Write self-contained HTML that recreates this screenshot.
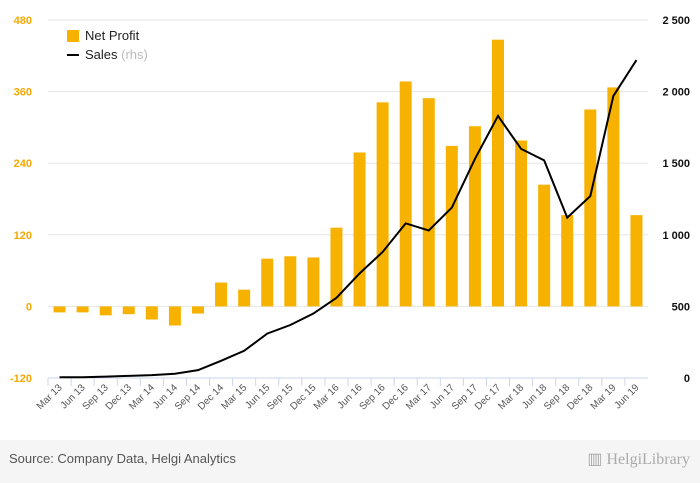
<!DOCTYPE html>
<html><head><meta charset="utf-8"><style>
body{margin:0;background:#fff;font-family:"Liberation Sans",sans-serif}
#wrap{position:relative;width:700px;height:483px;overflow:hidden}
#foot{position:absolute;left:0;top:440px;width:700px;height:43px;background:#f5f5f5}
</style></head><body>
<div id="wrap">
<svg id="svg" width="700" height="440"></svg>
<div id="foot">
<div style="position:absolute;left:9px;top:11px;font-size:13px;color:#555">Source: Company Data, Helgi Analytics</div>
<div style="position:absolute;right:10px;top:9px;font-size:16px;color:#aaa;font-family:'Liberation Serif',serif">▥ HelgiLibrary</div>
</div>
</div>
<script>
const categories=["Mar 13","Jun 13","Sep 13","Dec 13","Mar 14","Jun 14","Sep 14","Dec 14","Mar 15","Jun 15","Sep 15","Dec 15","Mar 16","Jun 16","Sep 16","Dec 16","Mar 17","Jun 17","Sep 17","Dec 17","Mar 18","Jun 18","Sep 18","Dec 18","Mar 19","Jun 19"];
const netProfit=[-10,-10,-15,-13,-22,-32,-12,40,28,80,84,82,132,258,342,377,349,269,302,447,278,204,153,330,367,153];
const sales=[5,5,10,15,20,30,55,120,190,310,370,450,560,730,880,1080,1030,1190,1530,1830,1600,1520,1120,1270,1970,2220];
const leftTicks=[-120,0,120,240,360,480];
const rightTicks=[0,500,1000,1500,2000,2500];
const NS="http://www.w3.org/2000/svg";
const svg=document.getElementById('svg');
const x0=48,x1=648,yTop=20,yBot=378;
const yL=v=>yBot-(v+120)/600*(yBot-yTop);
const yR=v=>yBot-v/2500*(yBot-yTop);
const step=(x1-x0)/categories.length;
const xc=i=>x0+step*(i+0.5);
function mk(t,a,txt){const e=document.createElementNS(NS,t);for(const k in a)e.setAttribute(k,a[k]);if(txt!==undefined)e.textContent=txt;svg.appendChild(e);return e;}
leftTicks.forEach(v=>{
 const g=mk('line',{x1:x0,x2:x1,y1:yL(v),y2:yL(v),stroke:'#e6e6e6','stroke-width':1});
 
 
 const t=mk('text',{x:32,y:yL(v)+4,'text-anchor':'end','font-size':11,'font-weight':'bold',fill:'#f5a800'},v);
 
 
});
rightTicks.forEach(v=>{
 const t=mk('text',{x:690,y:yR(v)+4,'text-anchor':'end','font-size':11,'font-weight':'bold',fill:'#111'},v.toLocaleString('en').replace(',',' '));
 
 
});
const ax=mk('line',{x1:x0,x2:x1,y1:yBot,y2:yBot,stroke:'#ccd6eb'});


netProfit.forEach((v,i)=>{
 const y=Math.min(yL(v),yL(0)),h=Math.abs(yL(v)-yL(0));
 const r=mk('rect',{x:xc(i)-6,y:y,width:12,height:h,fill:'#f7b200'});
 
 
});
categories.forEach((c,i)=>{
 const tk=mk('line',{x1:x0+step*i,x2:x0+step*i,y1:yBot,y2:yBot+8,stroke:'#ccd6eb'});
 
 
 const t=mk('text',{x:xc(i)+3,y:yBot+10,'text-anchor':'end','font-size':10,fill:'#555',transform:`rotate(-45 ${xc(i)+3} ${yBot+10})`},c);
 
 
});
const p=mk('polyline',{points:sales.map((v,i)=>xc(i)+','+yR(v)).join(' '),fill:'none',stroke:'#000','stroke-width':2});


const l1=mk('rect',{x:67,y:30,width:12,height:12,fill:'#f7b200'});


const l1t=mk('text',{x:85,y:40,'font-size':13,fill:'#222'},'Net Profit');


const l2=mk('line',{x1:67,x2:79,y1:55,y2:55,stroke:'#000','stroke-width':2});


const l2t=mk('text',{x:85,y:59,'font-size':13,fill:'#222'});
l2t.innerHTML='Sales <tspan fill="#bbb">(rhs)</tspan>';


</script>
</body></html>
